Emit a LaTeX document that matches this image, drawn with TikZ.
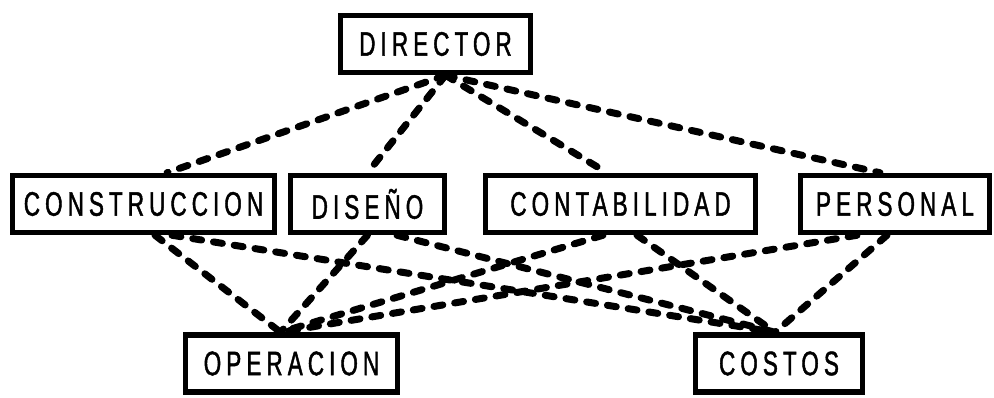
\documentclass[tikz,border=0pt]{standalone}
\usepackage{fontspec}
\newfontfamily\boxfont[FakeStretch=0.66,LetterSpace=15,FakeBold=1.3]{Liberation Sans}
\begin{document}
\begin{tikzpicture}[x=1pt,y=-1pt,
  unitbox/.style={draw, line width=5.5pt, inner sep=0pt, minimum height=57pt,
    font=\boxfont\fontsize{34}{34}\selectfont, text=black},
  link/.style={line width=7pt, line cap=round, dash pattern=on 9pt off 12pt}]
\useasboundingbox (0,0) rectangle (994,397);

% units of the organisation
\node[unitbox, minimum width=190pt] (dir)  at (435.5,44)  {DIRECTOR};
\node[unitbox, minimum width=262pt] (cons) at (143.5,204) {CONSTRUCCION};
\node[unitbox, minimum width=154pt] (dis)  at (367.5,204) {DISEÑO};
\node[unitbox, minimum width=270pt] (cont) at (620.5,204) {CONTABILIDAD};
\node[unitbox, minimum width=189pt] (pers) at (895,204)   {PERSONAL};
\node[unitbox, minimum width=212pt] (op)   at (291.5,363.5) {OPERACION};
\node[unitbox, minimum width=167pt] (cost) at (779,363.5) {COSTOS};

% director to the departments
\draw[link] ([xshift=10pt]dir.south) -- ([xshift=23.5pt]cons.north);
\draw[link] ([xshift=10pt]dir.south) -- (dis.north);
\draw[link] ([xshift=10pt]dir.south) -- ([xshift=-13.5pt]cont.north);
\draw[link] ([xshift=10pt]dir.south) -- ([xshift=-15pt]pers.north);

% departments to the two lower units
\draw[link] ([xshift=11.5pt]cons.south) -- ([xshift=-11pt]op.north);
\draw[link] ([xshift=28.5pt]cons.south) -- ([xshift=-4pt]cost.north);
\draw[link] (dis.south) -- ([xshift=-11pt]op.north);
\draw[link] ([xshift=29.5pt]dis.south) -- ([xshift=-4pt]cost.north);
\draw[link] ([xshift=-17.5pt]cont.south) -- ([xshift=-11pt]op.north);
\draw[link] ([xshift=16.5pt]cont.south) -- ([xshift=-4pt]cost.north);
\draw[link] ([xshift=-38pt]pers.south) -- ([xshift=-11pt]op.north);
\draw[link] ([xshift=-8pt]pers.south) -- ([xshift=-4pt]cost.north);
\end{tikzpicture}
\end{document}
